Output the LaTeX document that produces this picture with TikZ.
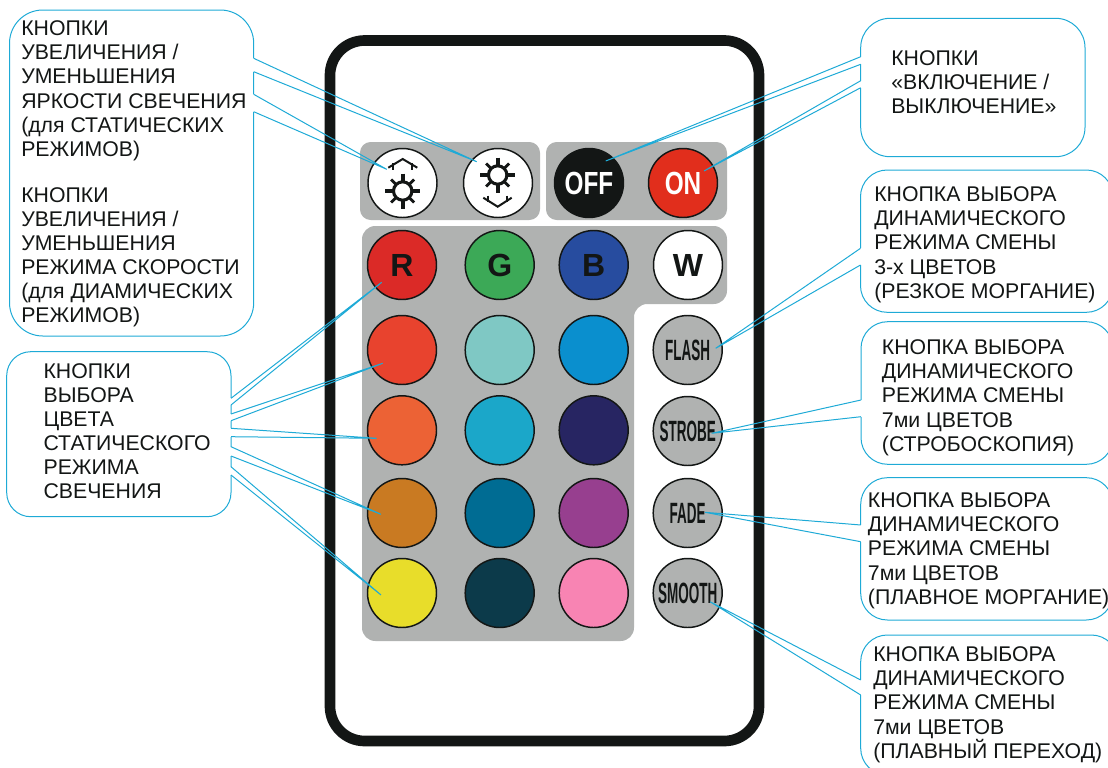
\documentclass[tikz,border=0pt]{standalone}
\usepackage{fontspec}
\setmainfont{Liberation Sans}
\newfontfamily\narrowfont[FakeStretch=0.46]{Liberation Sans}
\newfontfamily\midfont[FakeStretch=0.76]{Liberation Sans}
\usetikzlibrary{fit}
\definecolor{framecol}{HTML}{131615}
\definecolor{panelcol}{HTML}{B0B2B1}
\definecolor{linecol}{HTML}{1EAAD6}
\definecolor{onred}{HTML}{E12E1C}
\definecolor{rred}{HTML}{DB2A27}
\definecolor{rgreen}{HTML}{3CA957}
\definecolor{rblue}{HTML}{274C9F}
\definecolor{c11}{HTML}{E8432E}
\definecolor{c12}{HTML}{7FC8C4}
\definecolor{c13}{HTML}{0A8FCE}
\definecolor{c21}{HTML}{EC6235}
\definecolor{c22}{HTML}{1BA7C9}
\definecolor{c23}{HTML}{272562}
\definecolor{c31}{HTML}{C97A22}
\definecolor{c32}{HTML}{006C93}
\definecolor{c33}{HTML}{973F8F}
\definecolor{c41}{HTML}{E8DD2A}
\definecolor{c42}{HTML}{0C3A4A}
\definecolor{c43}{HTML}{F884B3}
\tikzset{
  btn/.style={circle, draw=framecol, line width=1.1pt, minimum size=51.75pt, inner sep=0pt},
  rgbbtn/.style={btn, text=framecol, font=\fontsize{24}{24}\selectfont\bfseries},
  modebtn/.style={btn, fill=panelcol, text=framecol, font=\fontsize{22}{22}\narrowfont\bfseries},
  powerbtn/.style={btn, text=white, font=\fontsize{24}{24}\midfont\bfseries},
  callout/.style={draw=linecol, line width=0.75pt, inner sep=0pt, outer sep=0pt},
  calltext/.style={anchor=north west, inner sep=0pt, align=left, text=framecol,
    font=\fontsize{15.95}{18.1}\selectfont},
  leaderline/.style={draw=linecol, line width=0.75pt, line join=miter},
  gapline/.style={draw=white, line width=1.6pt},
  sunmark/.style={draw=framecol, line width=3pt},
  sunspoke/.style={draw=framecol, line width=2.1pt},
  sunroof/.style={draw=framecol, line width=1.5pt},
}
\newcommand{\leader}[4]{
  \draw[gapline] (#1 |- 0,#2) -- (#1 |- 0,#3);
  \draw[leaderline] (#1 |- 0,#2) -- (#4) -- (#1 |- 0,#3);
}
\newcommand{\sunicon}[1]{
  \draw[sunmark] (#1) ++(-17.5,0) -- ++(35,0);
  \draw[sunmark] (#1) ++(0,-17.5) -- ++(0,35);
  \draw[sunspoke] (#1) ++(-11.5,-11.5) -- ++(23,23);
  \draw[sunspoke] (#1) ++(-11.5,11.5) -- ++(23,-23);
  \draw[draw=framecol, line width=2.3pt, fill=white] (#1) circle (6.9pt);
}
\begin{document}
\begin{tikzpicture}[x=0.75pt, y=-0.75pt]
    \useasboundingbox (0,0) rectangle (1108,768);
    \draw[framecol, line width=8pt, rounded corners=26pt] (330,40.5) rectangle (759,741);

    \fill[panelcol, rounded corners=8pt] (360,142) rectangle (540,220);
    \fill[panelcol, rounded corners=8pt] (546,142) rectangle (727,220);
    \fill[panelcol, rounded corners=10pt] (362,226) -- (727,226) -- (727,304) -- (634,304)
          -- (634,641) -- (362,641) -- cycle;

    \node[btn, fill=white] (bright) at (402.5,183) {};
    \node[btn, fill=white] (dim) at (498,183) {};
    \node[powerbtn, fill=framecol] (off) at (589,183) {OFF};
    \node[powerbtn, fill=onred] (on) at (683,183) {ON};

    \node[rgbbtn, fill=rred] (r) at (402,265) {R};
    \node[rgbbtn, fill=rgreen] (g) at (499.7,265) {G};
    \node[rgbbtn, fill=rblue] (b) at (593.7,265) {B};
    \node[rgbbtn, fill=white] (w) at (688,265) {W};

    \node[btn, fill=c11] (c11) at (402,350) {};
    \node[btn, fill=c12] (c12) at (499.7,350) {};
    \node[btn, fill=c13] (c13) at (593.7,350) {};
    \node[btn, fill=c21] (c21) at (402,430.3) {};
    \node[btn, fill=c22] (c22) at (499.7,430.3) {};
    \node[btn, fill=c23] (c23) at (593.7,430.3) {};
    \node[btn, fill=c31] (c31) at (402,513) {};
    \node[btn, fill=c32] (c32) at (499.7,513) {};
    \node[btn, fill=c33] (c33) at (593.7,513) {};
    \node[btn, fill=c41] (c41) at (402,593) {};
    \node[btn, fill=c42] (c42) at (499.7,593) {};
    \node[btn, fill=c43] (c43) at (593.7,593) {};

    \node[modebtn] (flash) at (687.7,350) {FLASH};
    \node[modebtn] (strobe) at (687.7,431) {STROBE};
    \node[modebtn] (fade) at (687.7,513) {FADE};
    \node[modebtn] (smooth) at (687.7,593) {SMOOTH};

    \coordinate (sunup) at (402.7,191);
    \coordinate (sundown) at (497.7,175);
    \sunicon{sunup}
    \sunicon{sundown}
    \draw[sunroof] (388.3,167.7) -- (402.7,159) -- (417.3,167.7);
    \draw[sunroof] (393.3,163) -- (393.3,170);
    \draw[sunroof] (411.7,163) -- (411.7,170);
    \draw[sunroof] (483.3,197.7) -- (497.7,206.7) -- (511.7,197.7);
    \draw[sunroof] (488.3,195.5) -- (488.3,201.7);
    \draw[sunroof] (506.7,195.5) -- (506.7,201.7);

    \node[callout, rounded corners=25pt, fit={(9.5,10) (253.7,336)}] (brightbox) {};
    \node[callout, rounded corners=18pt, fit={(6.7,351.7) (231,516.7)}] (colorbox) {};
    \node[callout, rounded corners=22pt, fit={(860.7,18.3) (1085,156.7)}] (powerbox) {};
    \node[callout, rounded corners=20pt, fit={(860.5,170) (1113,312.3)}] (flashbox) {};
    \node[callout, rounded corners=20pt, fit={(861,321.7) (1113,464.3)}] (strobebox) {};
    \node[callout, rounded corners=20pt, fit={(860.7,477.7) (1113,620)}] (fadebox) {};
    \node[callout, rounded corners=20pt, fit={(860.7,635) (1118,775)}] (smoothbox) {};

    \node[calltext] (brighttext) at (21,20.5) {КНОПКИ\\УВЕЛИЧЕНИЯ /\\УМЕНЬШЕНИЯ\\ЯРКОСТИ СВЕЧЕНИЯ\\(для СТАТИЧЕСКИХ\\РЕЖИМОВ)\\[16.4pt]
      КНОПКИ\\УВЕЛИЧЕНИЯ /\\УМЕНЬШЕНИЯ\\РЕЖИМА СКОРОСТИ\\(для ДИАМИЧЕСКИХ\\РЕЖИМОВ)};
    \node[calltext] (colortext) at (43.3,363) {КНОПКИ\\ВЫБОРА\\ЦВЕТА\\СТАТИЧЕСКОГО\\РЕЖИМА\\СВЕЧЕНИЯ};
    \node[calltext] (powertext) at (891,50) {КНОПКИ\\«ВКЛЮЧЕНИЕ /\\ВЫКЛЮЧЕНИЕ»};
    \node[calltext] (flashtext) at (874,186.5) {КНОПКА ВЫБОРА\\ДИНАМИЧЕСКОГО\\РЕЖИМА СМЕНЫ\\3-х ЦВЕТОВ\\(РЕЗКОЕ МОРГАНИЕ)};
    \node[calltext] (strobetext) at (881.7,339.5) {КНОПКА ВЫБОРА\\ДИНАМИЧЕСКОГО\\РЕЖИМА СМЕНЫ\\7ми ЦВЕТОВ\\(СТРОБОСКОПИЯ)};
    \node[calltext] (fadetext) at (867.7,492.5) {КНОПКА ВЫБОРА\\ДИНАМИЧЕСКОГО\\РЕЖИМА СМЕНЫ\\7ми ЦВЕТОВ\\(ПЛАВНОЕ МОРГАНИЕ)};
    \node[calltext] (smoothtext) at (873,646.5) {КНОПКА ВЫБОРА\\ДИНАМИЧЕСКОГО\\РЕЖИМА СМЕНЫ\\7ми ЦВЕТОВ\\(ПЛАВНЫЙ ПЕРЕХОД)};

    \coordinate (tipdim) at (476.7,161.7);
    \coordinate (tipbright) at (386.7,169.3);
    \coordinate (tipoff) at (605.7,161);
    \coordinate (tipon) at (704,171);
    \coordinate (tipr) at (381.7,282.3);
    \coordinate (tipa) at (382.7,363.3);
    \coordinate (tipb) at (376.7,438.3);
    \coordinate (tipc) at (381,514.3);
    \coordinate (tipd) at (381,595);
    \coordinate (tipflash) at (715.7,348.3);
    \coordinate (tipstrobe) at (711.7,433.3);
    \coordinate (tipfade) at (705,512.3);
    \coordinate (tipsmooth) at (710,601.7);

    \leader{brightbox.east}{58.3}{71.7}{tipdim}
    \leader{brightbox.east}{94.3}{111.7}{tipbright}
    \leader{colorbox.east}{398.3}{405}{tipr}
    \leader{colorbox.east}{414}{420.7}{tipa}
    \leader{colorbox.east}{428.3}{436.7}{tipb}
    \leader{colorbox.east}{446.7}{456}{tipc}
    \leader{colorbox.east}{466.7}{475}{tipd}
    \leader{powerbox.west}{56.7}{64.3}{tipoff}
    \leader{powerbox.west}{80.7}{87.7}{tipon}
    \leader{flashbox.west}{248.3}{265}{tipflash}
    \leader{strobebox.west}{400}{416.7}{tipstrobe}
    \leader{fadebox.west}{525}{541.7}{tipfade}
    \leader{smoothbox.west}{680}{695}{tipsmooth}
  \end{tikzpicture}
\end{document}
